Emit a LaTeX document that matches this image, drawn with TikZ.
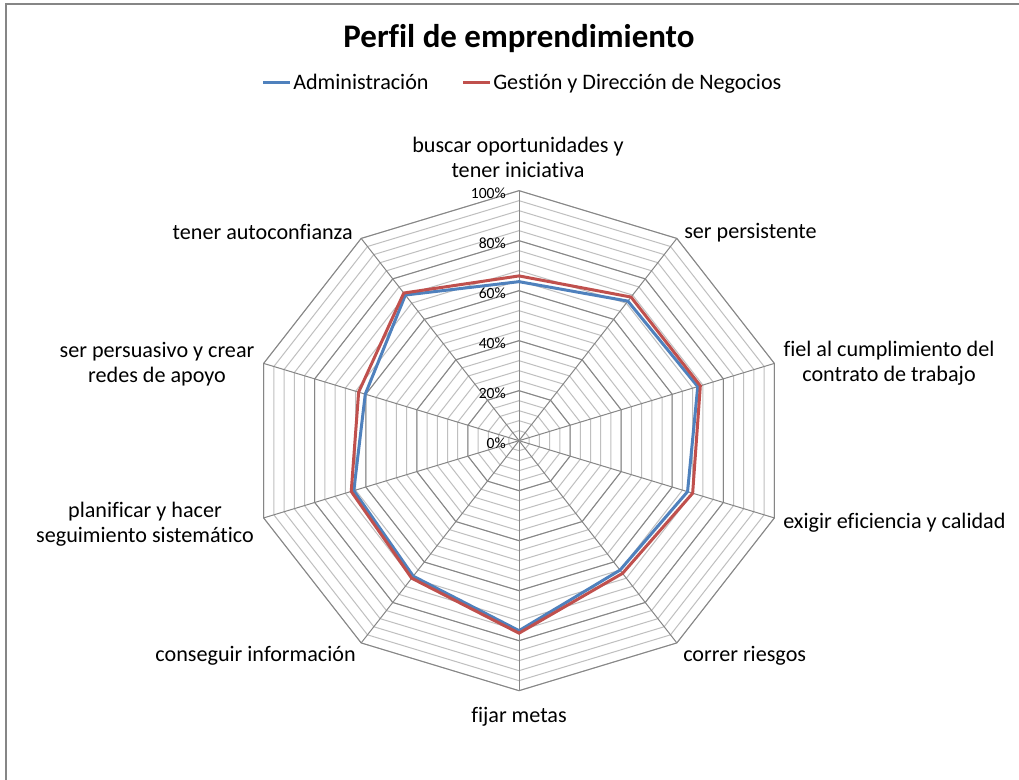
\documentclass[tikz,border=0pt]{standalone}
\usepackage{fontspec}
\setmainfont{Carlito}[Ligatures=NoCommon]
\usetikzlibrary{calc}
\definecolor{serA}{HTML}{4F81BD}
\definecolor{serB}{HTML}{C0504D}
\definecolor{gridmaj}{HTML}{868686}
\definecolor{gridmin}{HTML}{BFBFBF}
\definecolor{txt}{HTML}{000000}
\begin{document}
\begin{tikzpicture}[x=0.75pt,y=-0.75pt,
  minorgrid/.style={draw=gridmin,line width=0.75pt},
  majorgrid/.style={draw=gridmaj,line width=0.75pt},
  seriesline/.style={line width=2.25pt,line join=miter},
  catlabel/.style={font=\fontsize{16.6}{18.9}\selectfont,text=txt,inner sep=0pt,align=center,yshift=-1.5pt},
  ticklabel/.style={font=\fontsize{11.7}{13}\selectfont,text=txt,inner sep=0pt,anchor=east},
  legendtext/.style={font=\fontsize{16.6}{18.9}\selectfont,text=txt,inner sep=0pt,anchor=base west}]
\useasboundingbox (0,0) rectangle (1019,780);
\fill[white] (0,0) rectangle (1019,780);
% chart frame
\draw[gridmaj,line width=1.1pt] (6,800) -- (6,4) -- (1040,4);
\coordinate (C) at (519,440.67);
% grid polygons
\foreach \i in {1,...,25}{
  \pgfmathsetmacro\r{\i/25}
  \draw[minorgrid] ({519+268.5*\r*cos(90)},{440.67-250*\r*sin(90)})
    \foreach \k in {1,...,9}{ -- ({519+268.5*\r*cos(90-36*\k)},{440.67-250*\r*sin(90-36*\k)}) } -- cycle;
}
\foreach \i in {5,10,15,20,25}{
  \pgfmathsetmacro\r{\i/25}
  \draw[majorgrid] ({519+268.5*\r*cos(90)},{440.67-250*\r*sin(90)})
    \foreach \k in {1,...,9}{ -- ({519+268.5*\r*cos(90-36*\k)},{440.67-250*\r*sin(90-36*\k)}) } -- cycle;
}
% spokes
\foreach \k in {0,...,9}{
  \coordinate (v\k) at ({519+268.5*cos(90-36*\k)},{440.67-250*sin(90-36*\k)});
  \draw[majorgrid] (C) -- (v\k);
}
% tick labels
\foreach \p in {0,20,40,60,80,100}{
  \node[ticklabel] (t\p) at (506,{440.67-2.5*\p+2.5}) {\p\%};
}
% series
\foreach \v [count=\k from 0] in {0.636,0.69,0.70,0.66,0.64,0.76,0.67,0.647,0.602,0.72}{
  \coordinate (a\k) at ({519+268.5*\v*cos(90-36*\k)},{440.67-250*\v*sin(90-36*\k)});
}
\foreach \v [count=\k from 0] in {0.659,0.71,0.71,0.68,0.656,0.77,0.68,0.657,0.628,0.73}{
  \coordinate (b\k) at ({519+268.5*\v*cos(90-36*\k)},{440.67-250*\v*sin(90-36*\k)});
}
\draw[seriesline,serA] (a0) \foreach \k in {1,...,9}{ -- (a\k) } -- cycle;
\draw[seriesline,serB] (b0) \foreach \k in {1,...,9}{ -- (b\k) } -- cycle;
% title
\node[font=\fontsize{24.7}{28}\selectfont\bfseries,text=txt,inner sep=0pt] (title) at (519,39) {Perfil de emprendimiento};
% legend
\coordinate (la1) at (263,83); \coordinate (la2) at (290,83);
\coordinate (lb1) at (463,83); \coordinate (lb2) at (490,83);
\draw[serA,line width=2.25pt] (la1) -- (la2);
\draw[serB,line width=2.25pt] (lb1) -- (lb2);
\node[legendtext] (lga) at (293,90) {Administración};
\node[legendtext] (lgb) at (493,90) {Gestión y Dirección de Negocios};
% category labels
\node[catlabel] (c0) at (518,155.5) {buscar oportunidades y\\tener iniciativa};
\node[catlabel,anchor=west] (c1) at (684,231) {ser persistente};
\node[catlabel] (c2) at (889,361.5) {fiel al cumplimiento del\\contrato de trabajo};
\node[catlabel,anchor=west] (c3) at (783,521) {exigir eficiencia y calidad};
\node[catlabel,anchor=west] (c4) at (683,654) {correr riesgos};
\node[catlabel] (c5) at (519,715) {fijar metas};
\node[catlabel,anchor=east] (c6) at (356,654) {conseguir información};
\node[catlabel] (c7) at (145,522.5) {planificar y hacer\\seguimiento sistemático};
\node[catlabel] (c8) at (157,362) {ser persuasivo y crear\\redes de apoyo};
\node[catlabel,anchor=east] (c9) at (353,230) {tener autoconfianza};
\end{tikzpicture}
\end{document}
